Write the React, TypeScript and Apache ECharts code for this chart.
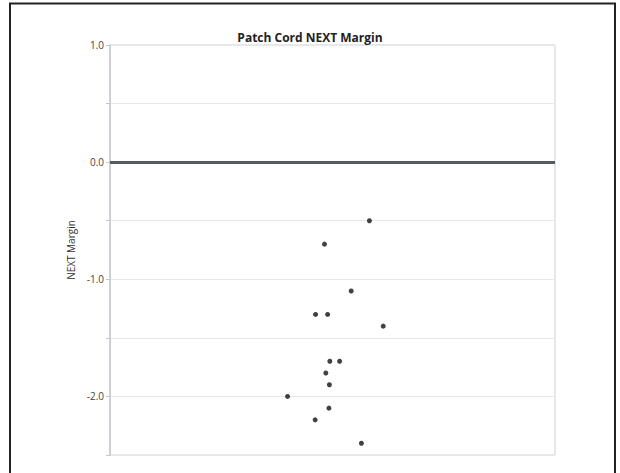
import React, { useEffect, useRef } from "react";
import * as echarts from "echarts";

const titleText = "Patch Cord NEXT Margin";
const yAxisName = "NEXT Margin";
// horizontal jitter positions (0-100) and NEXT margin values
const jitterX = [58.3, 48.2, 54.2, 46.2, 48.9, 61.4, 49.4, 51.6, 48.5, 49.3, 39.9, 49.2, 46.1, 56.5];
const marginY = [-0.5, -0.7, -1.1, -1.3, -1.3, -1.4, -1.7, -1.7, -1.8, -1.9, -2.0, -2.1, -2.2, -2.4];
const yLabels = [1, 0, -1, -2];

export default function App() {
  const ref = useRef<HTMLDivElement>(null);
  useEffect(() => {
    document.body.style.margin = "0";
    const chart = echarts.init(ref.current!, null, { renderer: "svg" });
    const data = jitterX.map((x, i) => [x, marginY[i]]);
    chart.setOption({
      animation: false,
      backgroundColor: "#ffffff",
      title: {
        text: titleText,
        left: "center",
        top: 26,
        textStyle: { fontSize: 12, fontWeight: "bold", color: "#222", fontFamily: "Open Sans" },
      },
      graphic: [
        {
          type: "rect",
          shape: { x: 10, y: 3.5, width: 605, height: 480 },
          style: { fill: "none", stroke: "#222", lineWidth: 2 },
          silent: true,
        },
      ],
      grid: {
        left: 110,
        right: 65,
        top: 45,
        bottom: 18,
        show: true,
        borderColor: "#cdd1d8",
        borderWidth: 1,
        backgroundColor: "transparent",
      },
      xAxis: {
        type: "value",
        min: 0,
        max: 100,
        axisLine: { show: false },
        axisTick: { show: false },
        axisLabel: { show: false },
        splitLine: { show: false },
      },
      yAxis: {
        type: "value",
        min: -2.5,
        max: 1.0,
        interval: 0.5,
        name: yAxisName,
        nameLocation: "middle",
        nameRotate: 90,
        nameGap: 32,
        nameTextStyle: { fontSize: 10, color: "#333", fontFamily: "Open Sans" },
        axisLine: { show: true, lineStyle: { color: "#c4c8d0", width: 1.5 } },
        axisTick: { show: true, length: 4, lineStyle: { color: "#c4c8d0" } },
        axisLabel: {
          fontSize: 10,
          color: "#444",
          fontFamily: "Open Sans",
          margin: 6,
          formatter: (v: number) => (yLabels.some((l) => Math.abs(l - v) < 1e-9) ? v.toFixed(1) : ""),
        },
        splitLine: { show: true, lineStyle: { color: "#e6e8ec", width: 1 } },
      },
      series: [
        {
          type: "scatter",
          data,
          symbolSize: 5,
          itemStyle: { color: "#111" },
          markLine: {
            silent: true,
            symbol: "none",
            label: { show: false },
            lineStyle: { color: "#555a60", width: 3, type: "solid" },
            data: [{ yAxis: 0 }],
          },
        },
      ],
    });
    return () => chart.dispose();
  }, []);
  return <div ref={ref} style={{ width: 620, height: 473 }} />;
}
